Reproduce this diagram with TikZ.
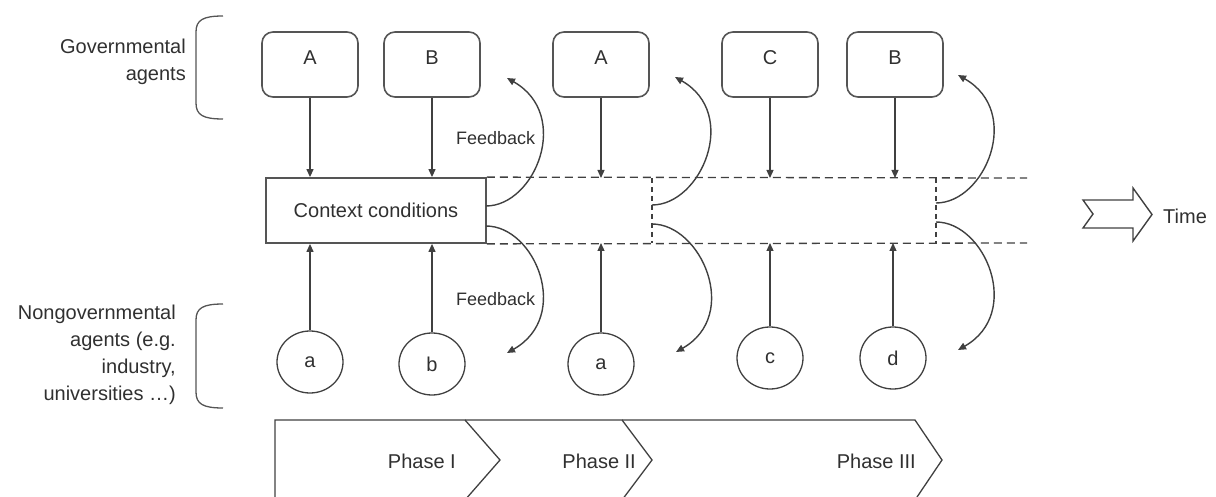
\documentclass[tikz,border=0pt]{standalone}
\usepackage{fontspec}
\setmainfont{Liberation Sans}
\usetikzlibrary{arrows.meta,shapes.geometric}
\definecolor{lc}{HTML}{404040}
\definecolor{tc}{HTML}{303030}
\definecolor{bc}{HTML}{555555}
\begin{document}
\begin{tikzpicture}[x=1pt,y=-1pt,
  arr/.style={lc,line width=1.2pt,-{Triangle[length=8pt,width=7pt]}},
  gbox/.style={draw=bc,line width=1.6pt,rounded corners=11pt,minimum width=96pt,minimum height=65pt,inner sep=0pt},
  nbox/.style={ellipse,draw=lc,line width=1.3pt,minimum width=66pt,minimum height=62pt,inner sep=0pt,text=tc,font=\fontsize{20}{24}\selectfont},
  dsh/.style={lc,line width=1.3pt,dash pattern=on 8pt off 5pt},
  vdsh/.style={lc,line width=1.1pt,dash pattern=on 5pt off 4pt},
  fb/.style={lc,line width=1.4pt,-{Triangle[length=8pt,width=7pt]}},
  txt/.style={text=tc,font=\fontsize{20}{27}\selectfont,inner sep=0pt},
  fbt/.style={text=tc,font=\fontsize{18}{22}\selectfont,inner sep=0pt},
  brk/.style={draw=bc,line width=1.3pt},
  phase/.style={draw=lc,line width=1.3pt},
]
\useasboundingbox (0,0) rectangle (1216,497);

% left labels and brackets
\node[txt,align=right,anchor=east] (gov) at (186,62) {Governmental\\agents};
\draw[brk] (223,16) .. controls (203,16) and (196,20) .. (196,32) -- (196,103) .. controls (196,115) and (203,119) .. (223,119);
\node[txt,align=right,anchor=east] (ngov) at (176,355) {Nongovernmental\\agents (e.g.\\industry,\\universities …)};
\draw[brk] (223,304) .. controls (203,304) and (196,308) .. (196,320) -- (196,392) .. controls (196,404) and (203,408) .. (223,408);

% governmental agents
\foreach \n/\x/\t in {A1/310/A,B1/432/B,A2/601/A,C1/770/C,B2/895/B}{
  \node[gbox,label={[txt,anchor=center,yshift=7pt]center:\t}] (\n) at (\x,64.5) {};
}

% context conditions
\node[draw=bc,line width=1.8pt,minimum width=220pt,minimum height=65pt,inner sep=0pt,txt] (ctx) at (376,210.5) {Context conditions};
\coordinate (tl) at (1027,178);
\coordinate (bl) at (1027,243);
\coordinate (v1t) at (652,178);
\coordinate (v1b) at (652,243);
\coordinate (v2t) at (936,178);
\coordinate (v2b) at (936,243);
\draw[dsh] (ctx.north east) -- (tl);
\draw[dsh] (ctx.south east) -- (bl);
\draw[vdsh] (v1t) -- (v1b);
\draw[vdsh] (v2t) -- (v2b);

% nongovernmental agents
\node[nbox] (a1) at (310,362) {a};
\node[nbox] (b1) at (432,364) {b};
\node[nbox] (a2) at (601,364) {a};
\node[nbox] (c1) at (770,358) {c};
\node[nbox] (d1) at (893,358) {d};

% arrows down
\draw[arr] (A1) -- (A1 |- ctx.north);
\draw[arr] (B1) -- (B1 |- ctx.north);
\draw[arr] (A2) -- (A2 |- tl);
\draw[arr] (C1) -- (C1 |- tl);
\draw[arr] (B2) -- (B2 |- tl);
% arrows up
\draw[arr] (a1) -- (a1 |- ctx.south);
\draw[arr] (b1) -- (b1 |- ctx.south);
\draw[arr] (a2) -- (a2 |- bl);
\draw[arr] (c1) -- (c1 |- bl);
\draw[arr] (d1) -- (d1 |- bl);

% feedback arcs
\coordinate (f1s) at (486,206); \coordinate (f1e) at (507,78);
\coordinate (f2s) at (652,205); \coordinate (f2e) at (675,77);
\coordinate (f3s) at (936,203); \coordinate (f3e) at (958,75);
\coordinate (g1s) at (486,226); \coordinate (g1e) at (507,353);
\coordinate (g2s) at (652,224); \coordinate (g2e) at (676,352);
\coordinate (g3s) at (936,222); \coordinate (g3e) at (958,350);
\foreach \s/\e in {f1s/f1e,f2s/f2e,f3s/f3e}{
  \draw[fb] (\s) .. controls +(49,0) and +(65,37) .. (\e);
}
\foreach \s/\e in {g1s/g1e,g2s/g2e,g3s/g3e}{
  \draw[fb] (\s) .. controls +(49,0) and +(65,-37) .. (\e);
}
\node[fbt,anchor=west] (fbu) at (456,138) {Feedback};
\node[fbt,anchor=west] (fbl) at (456,299) {Feedback};

% time arrow
\draw[lc,line width=1.4pt,line join=miter] (1083,200) -- (1133,200) -- (1133,188) -- (1152,214.5) -- (1133,241) -- (1133,228) -- (1083,228) -- (1093,214) -- cycle;
\node[txt,anchor=west] (time) at (1163,216) {Time};

% phases
\draw[phase] (275,500) -- (275,420) -- (465,420) -- (500,460) -- (465,500);
\draw[phase] (465,420) -- (622,420) -- (652,460) -- (622,500);
\draw[phase] (622,420) -- (915,420) -- (942,460) -- (915,500);
\node[txt,anchor=east] (p1) at (456,461) {Phase I};
\node[txt,anchor=east] (p2) at (636,461) {Phase II};
\node[txt,anchor=east] (p3) at (916,461) {Phase III};
\end{tikzpicture}
\end{document}
